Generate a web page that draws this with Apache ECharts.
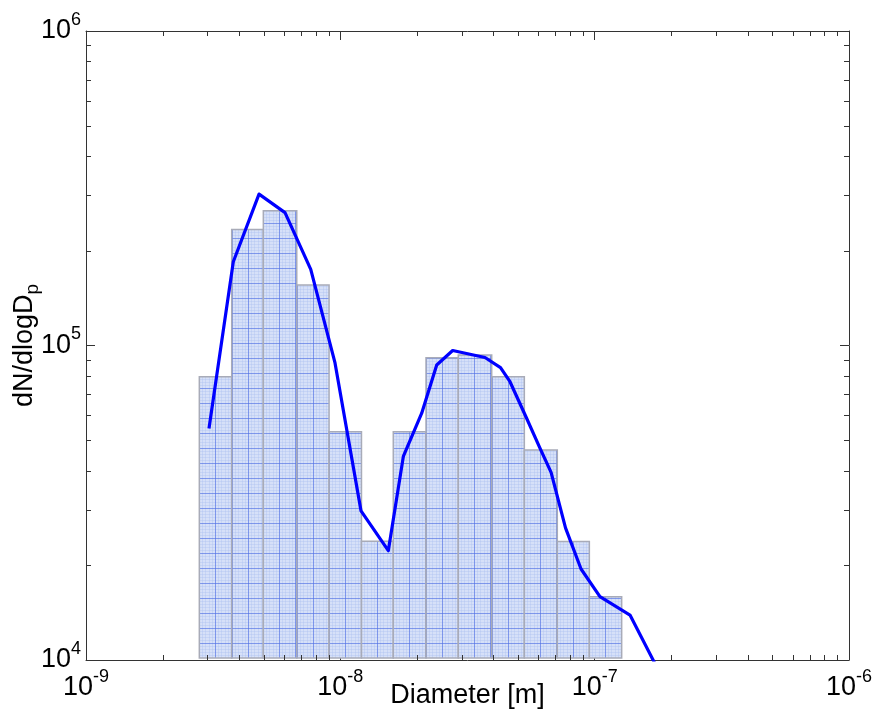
<!DOCTYPE html>
<html>
<head>
<meta charset="utf-8">
<script src="https://cdn.jsdelivr.net/npm/echarts@6/dist/echarts.min.js"></script>
<style>
html,body{margin:0;padding:0;background:#fff;}
#chart{width:875px;height:714px;}
</style>
</head>
<body>
<div id="chart"></div>
<script>
// Axis extents
const X_MIN = 1e-9, X_MAX = 1e-6, Y_MIN = 1e4, Y_MAX = 1e6;

// Histogram bins (edges in metres) and heights (dN/dlogDp)
const binEdges = [2.79e-9, 3.74e-9, 4.98e-9, 6.74e-9, 9.03e-9, 1.211e-8, 1.615e-8,
                  2.172e-8, 2.909e-8, 3.937e-8, 5.29e-8, 7.13e-8, 9.53e-8, 1.277e-7];
const binValues = [7.96e4, 2.34e5, 2.68e5, 1.557e5, 5.32e4, 2.385e4, 5.32e4,
                   9.15e4, 9.33e4, 7.96e4, 4.655e4, 2.38e4, 1.59e4];

// Size distribution curve
const lineX = [3.045e-9, 3.795e-9, 4.79e-9, 6.06e-9, 7.65e-9, 9.53e-9, 1.206e-8, 1.544e-8,
               1.769e-8, 2.089e-8, 2.393e-8, 2.765e-8, 3.705e-8, 4.264e-8, 4.646e-8, 5.40e-8,
               6.10e-8, 6.74e-8, 7.68e-8, 8.84e-8, 1.049e-7, 1.377e-7, 1.742e-7];
const lineY = [5.45e4, 1.847e5, 3.03e5, 2.645e5, 1.747e5, 8.80e4, 2.98e4, 2.226e4,
               4.44e4, 6.09e4, 8.67e4, 9.64e4, 9.16e4, 8.51e4, 7.67e4, 5.87e4,
               4.71e4, 3.95e4, 2.63e4, 1.947e4, 1.590e4, 1.390e4, 9.6e3];

// Minor tick positions (log axes, 2..9 per decade)
const minorMultipliers = [2, 3, 4, 5, 6, 7, 8, 9];
const xDecades = [1e-9, 1e-8, 1e-7];
const yDecades = [1e4, 1e5];

const xMinor = [];
xDecades.forEach(d => minorMultipliers.forEach(m => xMinor.push(m * d)));
const yMinor = [];
yDecades.forEach(d => minorMultipliers.forEach(m => yMinor.push(m * d)));

const FONT = '"Liberation Sans", Arial, Helvetica, sans-serif';

// Hatch-grid pattern for bars
function makePatternCanvas() {
  const c = document.createElement('canvas');
  c.width = 16; c.height = 15;
  const g = c.getContext('2d');
  g.fillStyle = 'rgb(214,224,248)';
  g.fillRect(0, 0, 16, 15);
  g.fillStyle = 'rgba(170,188,240,0.35)';
  [3, 6, 10, 13].forEach(x => g.fillRect(x, 0, 1, 15));
  [3, 6, 9, 12].forEach(y => g.fillRect(0, y, 16, 1));
  g.fillStyle = 'rgba(80,112,228,0.65)';
  g.fillRect(0, 0, 16, 1);
  g.fillRect(0, 0, 1, 15);
  return c;
}
const patCanvas = makePatternCanvas();

function powLabel(v) {
  const e = Math.round(Math.log10(v));
  return '{b|10}{s|' + e + '}';
}
const labelRich = {
  b: { fontSize: 27, fontFamily: FONT, color: '#000', lineHeight: 40 },
  s: { fontSize: 18, fontFamily: FONT, color: '#000', verticalAlign: 'top', lineHeight: 14 }
};

const chart = echarts.init(document.getElementById('chart'), null, { renderer: 'canvas' });

const axisLineStyle = { color: '#333', width: 1 };

chart.setOption({
  animation: false,
  backgroundColor: '#fff',
  grid: { left: 86, right: 26, top: 31, bottom: 54, containLabel: false, outerBoundsMode: 'none' },
  xAxis: [{
    type: 'log', logBase: 10, min: X_MIN, max: X_MAX, position: 'bottom',
    axisLine: { show: true, lineStyle: axisLineStyle },
    axisTick: { show: true, inside: true, length: 9, lineStyle: { color: '#333' } },
    splitLine: { show: false },
    axisLabel: { margin: 8, formatter: powLabel, rich: labelRich, hideOverlap: false },
    name: 'Diameter [m]', nameLocation: 'middle', nameGap: 22, nameMoveOverlap: false,
    nameTextStyle: { fontSize: 27, fontFamily: FONT, color: '#000' }
  }, {
    type: 'log', logBase: 10, min: X_MIN, max: X_MAX, position: 'top',
    axisLine: { show: true, lineStyle: axisLineStyle },
    axisTick: { show: true, inside: true, length: 9, lineStyle: { color: '#333' } },
    splitLine: { show: false }, axisLabel: { show: false }
  }],
  yAxis: [{
    type: 'log', logBase: 10, min: Y_MIN, max: Y_MAX, position: 'left',
    axisLine: { show: true, lineStyle: axisLineStyle },
    axisTick: { show: true, inside: true, length: 9, lineStyle: { color: '#333' } },
    splitLine: { show: false },
    axisLabel: { margin: 5, formatter: powLabel, rich: labelRich, hideOverlap: false },
    name: '{a|dN/dlogD}{p|p}', nameLocation: 'middle', nameGap: 44, nameRotate: 90,
    nameMoveOverlap: false,
    nameTextStyle: {
      rich: {
        a: { fontSize: 27, fontFamily: FONT, color: '#000', lineHeight: 34 },
        p: { fontSize: 19, fontFamily: FONT, color: '#000', verticalAlign: 'bottom', lineHeight: 19 }
      }
    }
  }, {
    type: 'log', logBase: 10, min: Y_MIN, max: Y_MAX, position: 'right',
    axisLine: { show: true, lineStyle: axisLineStyle },
    axisTick: { show: true, inside: true, length: 9, lineStyle: { color: '#333' } },
    splitLine: { show: false }, axisLabel: { show: false }
  }],
  series: [{
    type: 'custom',
    xAxisIndex: 0, yAxisIndex: 0,
    silent: true,
    z: 2,
    data: binValues.map((v, i) => [binEdges[i], binEdges[i + 1], v]),
    encode: { x: [0, 1], y: 2 },
    renderItem: function (params, api) {
      const a = api.coord([api.value(0), api.value(2)]);
      const b = api.coord([api.value(1), Y_MIN]);
      const x0 = a[0], x1 = b[0], yTop = a[1], yBot = b[1] - 2;
      return {
        type: 'rect',
        shape: { x: x0, y: yTop, width: x1 - x0, height: yBot - yTop },
        style: {
          fill: { image: patCanvas, repeat: 'repeat', x: Math.round(x0), y: Math.round(yBot) },
          stroke: '#a8abb8', lineWidth: 1.5
        }
      };
    }
  }, {
    type: 'line',
    xAxisIndex: 0, yAxisIndex: 0,
    data: lineX.map((x, i) => [x, lineY[i]]),
    symbol: 'none', clip: true, z: 3,
    lineStyle: { color: '#0000ff', width: 3.2, join: 'round' },
    silent: true
  }, {
    type: 'custom',
    xAxisIndex: 0, yAxisIndex: 0,
    silent: true, z: 4,
    data: xMinor.map(v => [v, Y_MIN]),
    encode: { x: 0, y: 1 },
    renderItem: function (params, api) {
      const p = api.coord([api.value(0), Y_MIN]);
      const q = api.coord([api.value(0), Y_MAX]);
      const x = Math.round(p[0]) + 0.5;
      const st = { stroke: '#333', lineWidth: 1 };
      return {
        type: 'group',
        children: [
          { type: 'line', shape: { x1: x, y1: p[1], x2: x, y2: p[1] - 5 }, style: st },
          { type: 'line', shape: { x1: x, y1: q[1], x2: x, y2: q[1] + 5 }, style: st }
        ]
      };
    }
  }, {
    type: 'custom',
    xAxisIndex: 0, yAxisIndex: 0,
    silent: true, z: 4,
    data: yMinor.map(v => [X_MIN, v]),
    encode: { x: 0, y: 1 },
    renderItem: function (params, api) {
      const p = api.coord([X_MIN, api.value(1)]);
      const q = api.coord([X_MAX, api.value(1)]);
      const y = Math.round(p[1]) + 0.5;
      const st = { stroke: '#333', lineWidth: 1 };
      return {
        type: 'group',
        children: [
          { type: 'line', shape: { x1: p[0], y1: y, x2: p[0] + 5, y2: y }, style: st },
          { type: 'line', shape: { x1: q[0], y1: y, x2: q[0] - 5, y2: y }, style: st }
        ]
      };
    }
  }]
});
</script>
</body>
</html>
